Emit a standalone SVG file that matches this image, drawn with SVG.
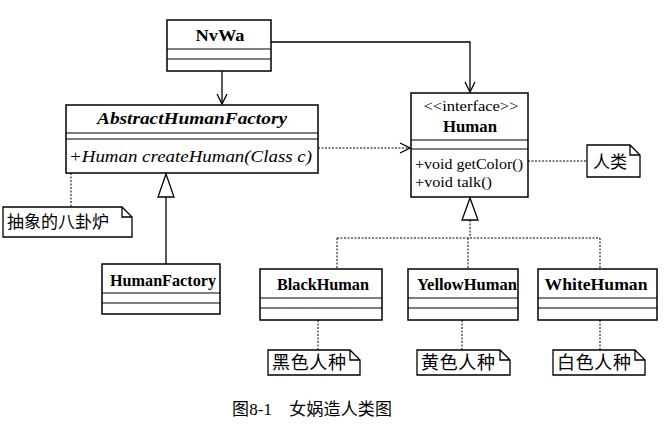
<svg xmlns="http://www.w3.org/2000/svg" width="670" height="425" viewBox="0 0 670 425">
<defs>
<style>
.box{fill:#fff;stroke:#000;stroke-width:1.5}
.sep{stroke:#000;stroke-width:1.2}
.cn{font-family:"Liberation Serif","Times New Roman",serif;font-weight:bold;font-size:16px;text-anchor:middle}
.it{font-family:"Liberation Serif","Times New Roman",serif;font-style:italic;font-size:16px}
.tx{font-family:"Liberation Serif","Times New Roman",serif;font-size:15px}
.nt{font-family:"Noto Sans CJK SC",sans-serif;font-size:17px}
.nb{font-family:"Noto Sans CJK SC",sans-serif;font-size:18px}
.solid{fill:none;stroke:#000;stroke-width:1.3}
.dash{fill:none;stroke:#000;stroke-width:1;stroke-dasharray:2,1.5}
.note{fill:#fff;stroke:#000;stroke-width:1.3}
</style>
<marker id="open" markerWidth="12" markerHeight="12" refX="11" refY="6" orient="auto" markerUnits="userSpaceOnUse">
<path d="M1,1 L11,6 L1,11" fill="none" stroke="#000" stroke-width="1.3"/>
</marker>
</defs>

<g id="connectors">
<path class="solid" d="M222,71 V104" marker-end="url(#open)"/>
<path class="solid" d="M271,42 H470 V92" marker-end="url(#open)"/>
<path class="dash" d="M318,148 H410" marker-end="url(#open)"/>
<path class="dash" d="M528,161 H587"/>
<path class="dash" d="M71,173 V207"/>
<path class="solid" d="M166,265 V197"/>
<path d="M166,174 L158,197 L174,197 Z" fill="#fff" stroke="#000" stroke-width="1.3"/>
<path class="dash" d="M470,220 V238 M337,238 H600 M337,238 V269 M468,238 V269 M600,238 V269"/>
<path d="M470,198 L462,220 L478,220 Z" fill="#fff" stroke="#000" stroke-width="1.3"/>
<path class="dash" d="M318,320 V350 M462,320 V350 M600,320 V350"/>
</g>

<g id="NvWa">
<rect class="box" x="167" y="20" width="104" height="51"/>
<line class="sep" x1="167" y1="49" x2="271" y2="49"/>
<line class="sep" x1="167" y1="59" x2="271" y2="59"/>
<text class="cn" x="220" y="41" textLength="49" lengthAdjust="spacingAndGlyphs">NvWa</text>
</g>

<g id="AbstractHumanFactory">
<rect class="box" x="66" y="105" width="252" height="68"/>
<line class="sep" x1="66" y1="133" x2="318" y2="133"/>
<line class="sep" x1="66" y1="139" x2="318" y2="139"/>
<text class="it" x="192" y="124" text-anchor="middle" font-weight="bold" textLength="190" lengthAdjust="spacingAndGlyphs">AbstractHumanFactory</text>
<text class="it" x="69" y="162" textLength="243" lengthAdjust="spacingAndGlyphs">+Human createHuman(Class c)</text>
</g>

<g id="Human">
<rect class="box" x="411" y="93" width="117" height="104"/>
<line class="sep" x1="411" y1="140" x2="528" y2="140"/>
<line class="sep" x1="411" y1="149" x2="528" y2="149"/>
<text class="tx" x="471" y="111" text-anchor="middle" textLength="95" lengthAdjust="spacingAndGlyphs">&lt;&lt;interface&gt;&gt;</text>
<text class="cn" x="470" y="132" textLength="54" lengthAdjust="spacingAndGlyphs">Human</text>
<text class="tx" x="415" y="169" textLength="108" lengthAdjust="spacingAndGlyphs">+void getColor()</text>
<text class="tx" x="415" y="187" textLength="77" lengthAdjust="spacingAndGlyphs">+void talk()</text>
</g>

<g id="HumanFactory">
<rect class="box" x="102" y="264" width="118" height="50"/>
<line class="sep" x1="102" y1="293" x2="220" y2="293"/>
<line class="sep" x1="102" y1="303" x2="220" y2="303"/>
<text class="cn" x="163" y="286" textLength="106" lengthAdjust="spacingAndGlyphs">HumanFactory</text>
</g>

<g id="BlackHuman">
<rect class="box" x="260" y="269" width="122" height="51"/>
<line class="sep" x1="260" y1="298" x2="382" y2="298"/>
<line class="sep" x1="260" y1="308" x2="382" y2="308"/>
<text class="cn" x="323" y="290" textLength="92" lengthAdjust="spacingAndGlyphs">BlackHuman</text>
</g>

<g id="YellowHuman">
<rect class="box" x="408" y="269" width="110" height="51"/>
<line class="sep" x1="408" y1="298" x2="518" y2="298"/>
<line class="sep" x1="408" y1="308" x2="518" y2="308"/>
<text class="cn" x="467" y="290" textLength="100" lengthAdjust="spacingAndGlyphs">YellowHuman</text>
</g>

<g id="WhiteHuman">
<rect class="box" x="538" y="269" width="119" height="51"/>
<line class="sep" x1="538" y1="298" x2="657" y2="298"/>
<line class="sep" x1="538" y1="308" x2="657" y2="308"/>
<text class="cn" x="596" y="290" textLength="103" lengthAdjust="spacingAndGlyphs">WhiteHuman</text>
</g>

<g id="note-renlei">
<path class="note" d="M587,145 H630 L640,155 V177 H587 Z M630,145 V155 H640"/>
<text class="nt" x="593" y="168">人类</text>
</g>

<g id="note-bagualu">
<path class="note" d="M3,207 H122 L132,217 V237 H3 Z M122,207 V217 H132"/>
<text class="nt" x="7" y="228">抽象的八卦炉</text>
</g>

<g id="note-black">
<path class="note" d="M268,350 H350 L360,360 V375 H268 Z M350,350 V360 H360"/>
<text class="nb" x="272" y="369" textLength="74">黑色人种</text>
</g>

<g id="note-yellow">
<path class="note" d="M417,350 H500 L510,360 V375 H417 Z M500,350 V360 H510"/>
<text class="nb" x="421" y="369" textLength="74">黄色人种</text>
</g>

<g id="note-white">
<path class="note" d="M553,350 H635 L645,360 V375 H553 Z M635,350 V360 H645"/>
<text class="nb" x="557" y="369" textLength="74">白色人种</text>
</g>

<text x="232" y="415" font-family="'Liberation Serif','Noto Sans CJK SC',serif" font-size="17" textLength="160">图8-1　女娲造人类图</text>
</svg>
